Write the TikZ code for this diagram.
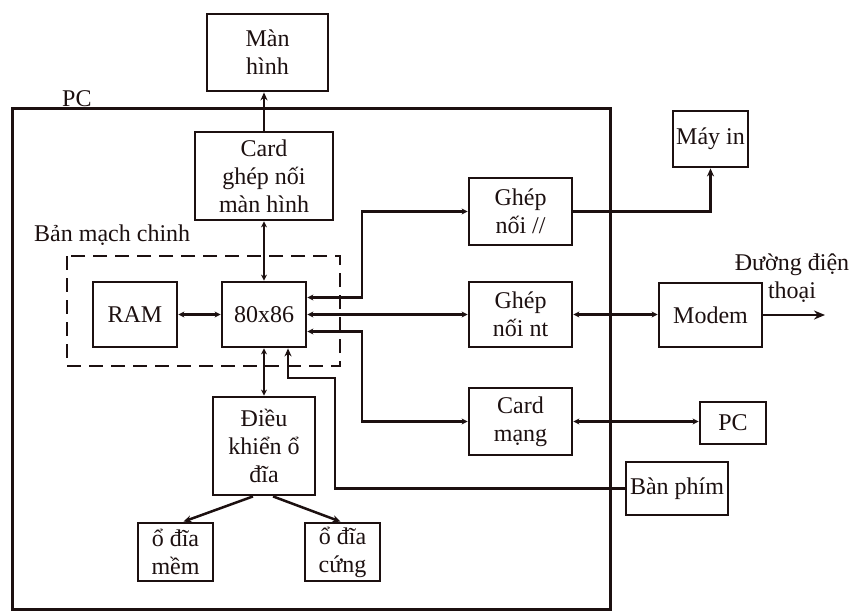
\documentclass[tikz,border=0pt]{standalone}
\usepackage{fontspec}
\setmainfont{Liberation Serif}
\usetikzlibrary{arrows.meta,calc}
\definecolor{ink}{HTML}{1C1010}
\begin{document}
\begin{tikzpicture}[x=1pt,y=-1pt,
  box/.style={draw=ink,line width=2.8pt,rectangle,inner sep=0pt,align=center,text=ink,font=\fontsize{24}{28}\selectfont},
  lbl/.style={inner sep=0pt,align=center,text=ink,font=\fontsize{24}{28}\selectfont},
  conn/.style={draw=ink,line width=2.5pt},
  bi/.style={conn,{Stealth[length=6pt,width=6pt]}-{Stealth[length=6pt,width=6pt]}},
  one/.style={conn,-{Stealth[length=8pt,width=7pt]}},
  big/.style={conn,-{Stealth[length=11pt,width=9pt]}}
]
\fill[white] (0,0) rectangle (853,611);
\useasboundingbox (0,0) rectangle (853,611);

% outer PC frame and main board
\draw[ink,line width=3pt] (12,108) rectangle (610,609);
\draw[ink,line width=2.5pt,dash pattern=on 14pt off 8pt] (67,256) rectangle (340,366);

% labels
\node[lbl,anchor=base west] (pclbl) at (62,106) {PC};
\node[lbl,anchor=west] (bmc) at (34,235) {Bản mạch chinh};
\node[lbl] (dt) at (792,278) {Đường điện\\thoại};

% blocks
\node[box,minimum width=121pt,minimum height=77pt] (mh) at (267.5,52.5) {Màn\\hình};
\node[box,minimum width=138pt,minimum height=88pt] (cmh) at (264,176) {Card\\ghép nối\\màn hình};
\node[box,minimum width=84pt,minimum height=65pt] (ram) at (135,314.5) {RAM};
\node[box,minimum width=84pt,minimum height=65pt] (cpu) at (264,314.5) {80x86};
\node[box,minimum width=102pt,minimum height=98pt] (dk) at (264,446) {Điều\\khiển ổ\\đĩa};
\node[box,minimum width=75pt,minimum height=58pt] (mem) at (175.5,552) {ổ đĩa\\mềm};
\node[box,minimum width=75pt,minimum height=58pt] (cung) at (342.5,552) {ổ đĩa\\cứng};
\node[box,minimum width=103pt,minimum height=67pt] (gp) at (520.5,211.5) {Ghép\\nối //};
\node[box,minimum width=103pt,minimum height=65pt] (gnt) at (520.5,314.5) {Ghép\\nối nt};
\node[box,minimum width=103pt,minimum height=67pt] (cm) at (520.5,421.5) {Card\\mạng};
\node[box,minimum width=75pt,minimum height=56pt] (mi) at (710.5,139) {Máy in};
\node[box,minimum width=103pt,minimum height=64pt] (modem) at (710.5,315) {Modem};
\node[box,minimum width=66pt,minimum height=42pt] (pcx) at (733,423) {PC};
\node[box,minimum width=102pt,minimum height=53pt] (bp) at (677,488.5) {Bàn phím};

% helper coordinates
\coordinate (bus) at (362,0);
\coordinate (c1) at ([yshift=17pt]cpu.east);
\coordinate (c3) at ([yshift=-17pt]cpu.east);
\coordinate (k1) at ([xshift=24pt]cpu.south);
\coordinate (kb) at (335,378);
\coordinate (out) at (825,315);

% connectors
\draw[one] (cmh.north) -- (cmh.north |- mh.south);
\draw[bi] (cmh.south) -- (cpu.north);
\draw[bi] (ram) -- (cpu);
\draw[bi] (cpu) -- (dk);
\draw[one] ([xshift=-11pt]dk.south) -- ([xshift=8pt]mem.north);
\draw[one] ([xshift=9pt]dk.south) -- ([xshift=-2pt]cung.north);
\draw[bi] (c1) -- (c1 -| bus) |- (gp.west);
\draw[bi] (cpu.east) -- (gnt.west);
\draw[bi] (c3) -- (c3 -| bus) |- (cm.west);
\draw[one] (gp.east) -| (mi.south);
\draw[bi] (gnt.east) -- (gnt.east -| modem.west);
\draw[big] (modem.east) -- (out);
\draw[bi] (cm.east) -- (cm.east -| pcx.west);
\draw[one] (bp.west) -| (kb) -| (k1);
\end{tikzpicture}
\end{document}
